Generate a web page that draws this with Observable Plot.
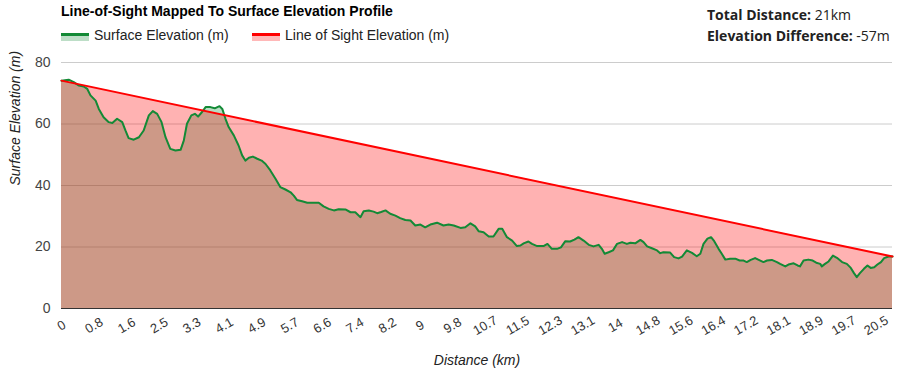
<!DOCTYPE html>
<html>
<head>
<meta charset="utf-8">
<script src="https://cdn.jsdelivr.net/npm/d3@7"></script>
<script src="https://cdn.jsdelivr.net/npm/@observablehq/plot@0.6"></script>
<style>
  html, body { margin: 0; padding: 0; background: #fff; }
  #wrap { position: relative; width: 911px; height: 381px; overflow: hidden; font-family: Arial, "Liberation Sans", sans-serif; }
  #header { position: relative; width: 911px; height: 50px; }
  .title { position: absolute; left: 61px; top: 3.5px; font-size: 14px; line-height: 14px; font-weight: bold; color: #000; white-space: nowrap; }
  .leg-swatch { position: absolute; top: 33px; width: 28px; height: 5px; }
  .leg-text { position: absolute; top: 27.5px; font-size: 14px; line-height: 14px; color: #222; white-space: nowrap; }
  .stat { position: absolute; left: 707px; font-family: "Open Sans", sans-serif; font-size: 14px; line-height: 14px; color: #222; white-space: nowrap; }
  .stat b { font-weight: 700; }
  #chart svg { display: block; }
</style>
</head>
<body>
<div id="wrap">
  <div id="header"></div>
  <div id="chart"></div>
</div>
<script>
// ---- Data ----
const chartTitle = "Line-of-Sight Mapped To Surface Elevation Profile";
const seriesNames = ["Surface Elevation (m)", "Line of Sight Elevation (m)"];
const statLabels = ["Total Distance:", "Elevation Difference:"];
const statValues = ["21km", "-57m"];

const distanceKm = [0.00,0.18,0.31,0.44,0.56,0.65,0.73,0.86,0.94,1.06,1.19,1.28,1.40,1.53,1.61,1.69,1.82,1.95,2.07,2.20,
  2.30,2.41,2.52,2.62,2.74,2.87,3.00,3.08,3.16,3.27,3.36,3.44,3.54,3.63,3.75,3.86,3.98,4.05,4.13,4.21,
  4.34,4.46,4.55,4.63,4.72,4.82,4.93,5.04,5.14,5.26,5.39,5.51,5.64,5.77,5.85,5.93,6.06,6.19,6.48,6.60,
  6.73,6.86,6.98,7.15,7.28,7.40,7.53,7.61,7.74,7.86,7.95,8.05,8.16,8.28,8.41,8.53,8.66,8.79,8.91,9.04,
  9.16,9.29,9.46,9.62,9.75,9.88,10.05,10.17,10.30,10.42,10.51,10.63,10.76,10.88,11.01,11.10,11.22,11.35,11.47,11.56,
  11.64,11.76,11.85,11.98,12.14,12.24,12.35,12.48,12.58,12.69,12.81,12.92,13.02,13.15,13.28,13.40,13.53,13.61,13.68,13.78,
  13.89,13.99,14.12,14.24,14.33,14.45,14.58,14.66,14.75,14.87,15.00,15.08,15.16,15.33,15.43,15.54,15.63,15.75,15.88,16.00,
  16.09,16.17,16.27,16.36,16.44,16.55,16.63,16.72,16.84,16.97,17.08,17.18,17.26,17.36,17.47,17.60,17.68,17.77,17.89,18.02,
  18.10,18.23,18.31,18.44,18.54,18.60,18.69,18.81,18.92,19.01,19.11,19.15,19.23,19.32,19.43,19.53,19.66,19.78,19.88,19.96,
  20.03,20.11,20.21,20.30,20.38,20.47,20.55,20.64,20.72,20.83,20.93];

const surfaceElevation = [74.1,74.4,73.6,72.5,72.2,71.4,69.3,67.6,64.9,62.2,60.6,60.3,61.7,60.6,57.9,55.4,54.9,55.7,57.9,62.8,
  64.2,63.3,60.6,55.7,51.9,51.4,51.6,54.6,60.1,62.8,63.3,62.4,63.9,65.5,65.5,65.1,65.8,64.9,61.7,59.0,
  56.3,53.0,49.8,48.1,49.0,49.4,48.7,48.1,47.0,44.9,42.2,39.5,38.7,37.8,36.7,35.3,34.9,34.4,34.4,33.2,
  32.4,31.9,32.3,32.2,31.3,31.3,29.7,31.6,31.9,31.5,31.0,31.4,31.9,30.8,30.2,29.4,28.8,28.6,27.0,27.3,
  26.4,27.3,27.9,27.0,27.3,27.0,26.2,26.4,27.7,26.7,25.1,24.8,23.4,23.4,25.9,25.9,23.2,22.1,20.3,20.5,
  21.2,21.8,21.0,20.3,20.3,21.0,19.4,19.4,19.9,21.9,21.8,22.4,23.2,22.1,20.7,20.2,20.7,19.4,17.8,18.3,
  18.9,21.0,21.6,21.0,21.4,21.2,22.3,21.6,20.2,19.6,18.9,18.0,18.3,18.2,16.7,16.3,16.9,18.9,18.1,17.0,
  17.8,21.0,22.7,23.2,21.9,19.4,17.8,15.9,16.2,16.2,15.6,15.6,15.1,15.8,16.4,15.6,15.1,15.6,15.8,15.1,
  14.5,13.7,14.3,14.7,14.0,13.7,15.6,15.9,15.6,14.9,14.5,13.7,14.5,15.3,17.2,16.5,15.1,14.5,13.2,11.5,
  10.2,11.5,12.9,14.0,13.2,13.4,14.3,15.1,16.4,16.9,16.9];

const losDistanceKm = [0, 20.93];
const losElevation = [74.1, 16.9];

const xTickValues = [0,0.82,1.64,2.46,3.28,4.10,4.92,5.75,6.57,7.39,8.21,9.03,9.85,10.67,11.49,12.31,13.13,13.95,14.77,15.60,16.42,17.24,18.06,18.88,19.70,20.52];
const xTickLabels = ["0","0.8","1.6","2.5","3.3","4.1","4.9","5.7","6.6","7.4","8.2","9","9.8","10.7","11.5","12.3","13.1","14","14.8","15.6","16.4","17.2","18.1","18.9","19.7","20.5"];
const yTickValues = [0, 20, 40, 60, 80];
const xAxisTitle = "Distance (km)";
const yAxisTitle = "Surface Elevation (m)";

const GREEN = "#138a36";
const RED = "#ff0000";

// ---- Header (title, legend, stats) ----
const header = document.getElementById("header");
function add(cls, styles, html) {
  const el = document.createElement("div");
  el.className = cls;
  Object.assign(el.style, styles);
  if (html != null) el.innerHTML = html;
  header.appendChild(el);
  return el;
}
add("title", {}, chartTitle);
add("leg-swatch", { left: "61px", borderTop: `3px solid ${GREEN}`, background: "rgba(19,138,54,0.28)" });
add("leg-text", { left: "94px" }).textContent = seriesNames[0];
add("leg-swatch", { left: "252px", borderTop: `3px solid ${RED}`, background: "rgba(255,0,0,0.28)" });
add("leg-text", { left: "285px" }).textContent = seriesNames[1];
statLabels.forEach((lab, i) => {
  const el = add("stat", { top: (i === 0 ? 7.5 : 29.3) + "px" });
  const b = document.createElement("b");
  b.textContent = lab;
  el.appendChild(b);
  el.appendChild(document.createTextNode(" " + statValues[i]));
});

// ---- Chart ----
const idx = distanceKm.map((_, i) => i);
const losIdx = losDistanceKm.map((_, i) => i);

const chart = Plot.plot({
  width: 911,
  height: 331,
  marginTop: 12,
  marginBottom: 73,
  marginLeft: 61,
  marginRight: 19,
  style: { fontFamily: "Arial, 'Liberation Sans', sans-serif", background: "white", overflow: "visible" },
  x: { domain: [0, 20.93], axis: null },
  y: { domain: [0, 80], label: null },
  marks: [
    Plot.ruleY(yTickValues.filter(v => v > 0), { stroke: "#cccccc", strokeWidth: 1 }),
    Plot.areaY(idx, { x: i => distanceKm[i], y: i => surfaceElevation[i], fill: GREEN, fillOpacity: 0.3 }),
    Plot.areaY(losIdx, { x: i => losDistanceKm[i], y: i => losElevation[i], fill: RED, fillOpacity: 0.3 }),
    Plot.line(idx, { x: i => distanceKm[i], y: i => surfaceElevation[i], stroke: GREEN, strokeWidth: 2 }),
    Plot.line(losIdx, { x: i => losDistanceKm[i], y: i => losElevation[i], stroke: RED, strokeWidth: 2 }),
    Plot.ruleY([0], { stroke: "#333333", strokeWidth: 1.2 }),
    Plot.axisY({ ticks: yTickValues, tickSize: 0, tickPadding: 11, fontSize: 14, fill: "#444", label: null }),
    Plot.text(xTickLabels, { x: (d, i) => xTickValues[i], text: d => d, frameAnchor: "bottom", dy: 17, rotate: -30, fontSize: 13, fill: "#333", textAnchor: "middle", lineAnchor: "middle" }),
    Plot.text([yAxisTitle], { text: d => d, frameAnchor: "left", dx: -46, rotate: -90, fontSize: 14, fontStyle: "italic", fill: "#222" }),
    Plot.text([xAxisTitle], { text: d => d, frameAnchor: "bottom", dy: 56, fontSize: 14, fontStyle: "italic", fill: "#222" })
  ]
});
document.getElementById("chart").appendChild(chart);
</script>
</body>
</html>
